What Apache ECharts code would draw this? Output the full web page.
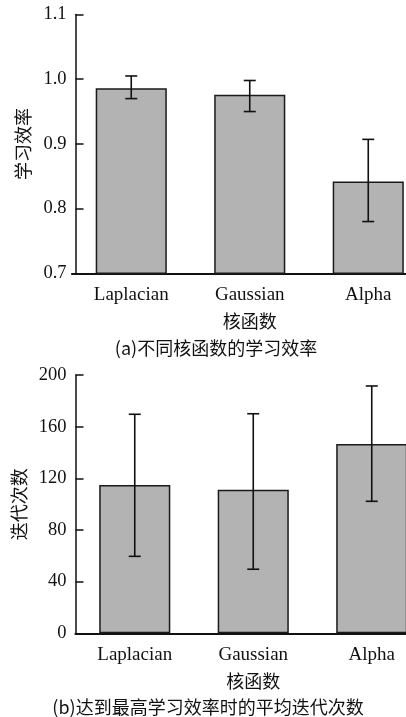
<!DOCTYPE html>
<html>
<head>
<meta charset="utf-8">
<script src="https://cdn.jsdelivr.net/npm/echarts@6/dist/echarts.min.js"></script>
<style>
html,body{margin:0;padding:0;background:#fff;overflow:hidden;width:406px;height:717px;}
#c{width:440px;height:717px;}
</style>
</head>
<body>
<div id="c"></div>
<script>
var categories = ['Laplacian', 'Gaussian', 'Alpha'];
var effMean = [0.986, 0.976, 0.842];
var effLow = [0.970, 0.950, 0.780];
var effHigh = [1.005, 0.998, 0.907];
var iterMean = [114.8, 111.2, 146.6];
var iterLow = [59.6, 49.6, 102.2];
var iterHigh = [169.6, 170.0, 191.5];
var effTicks = [0.7, 0.8, 0.9, 1.0, 1.1];
var iterTicks = [0, 40, 80, 120, 160, 200];
var xName = '核函数';
var effName = '学习效率';
var iterName = '迭代次数';
var captionA = '(a)不同核函数的学习效率';
var captionB = '(b)达到最高学习效率时的平均迭代次数';

var serif = '"Liberation Serif", "Times New Roman", serif';
var cjk = '"Noto Sans CJK SC", sans-serif';

function errData(low, high) {
  return categories.map(function (c, i) { return [i, low[i], high[i]]; });
}
function errRender(params, api) {
  var lo = api.coord([api.value(0), api.value(1)]);
  var hi = api.coord([api.value(0), api.value(2)]);
  var cap = 6;
  var st = { stroke: '#111', lineWidth: 1.6 };
  return {
    type: 'group',
    children: [
      { type: 'line', shape: { x1: hi[0], y1: hi[1], x2: lo[0], y2: lo[1] }, style: st },
      { type: 'line', shape: { x1: hi[0] - cap, y1: hi[1], x2: hi[0] + cap, y2: hi[1] }, style: st },
      { type: 'line', shape: { x1: lo[0] - cap, y1: lo[1], x2: lo[0] + cap, y2: lo[1] }, style: st }
    ]
  };
}

var chart = echarts.init(document.getElementById('c'), null, { renderer: 'canvas' });

function xAxisCfg(gi) {
  return {
    type: 'category', gridIndex: gi, data: categories,
    axisLine: { lineStyle: { color: '#111', width: 2.2 } },
    axisTick: { show: false },
    axisLabel: { color: '#111', fontFamily: serif, fontSize: 19, margin: 12 },
    name: xName, nameLocation: 'middle', nameGap: 39,
    nameTextStyle: { color: '#111', fontFamily: cjk, fontSize: 18 }
  };
}
function yAxisCfg(gi, ticks, name, dec, off) {
  return {
    type: 'value', gridIndex: gi,
    min: ticks[0], max: ticks[ticks.length - 1], interval: ticks[1] - ticks[0],
    offset: off,
    splitLine: { show: false },
    axisLine: { show: true, lineStyle: { color: '#111', width: 1.5 } },
    axisTick: { show: true, inside: true, length: 8, lineStyle: { color: '#111', width: 1.5 } },
    axisLabel: {
      color: '#111', fontFamily: serif, fontSize: 18.5, margin: 9,
      formatter: function (v) { return dec ? v.toFixed(dec) : String(Math.round(v)); }
    },
    name: name, nameLocation: 'middle', nameGap: 36 + off, nameRotate: 90,
    nameTextStyle: { color: '#111', fontFamily: cjk, fontSize: 18 }
  };
}

var barStyle = { color: '#b3b3b3', borderColor: '#1a1a1a', borderWidth: 1.5 };

chart.setOption({
  animation: false,
  backgroundColor: '#fff',
  grid: [
    { left: 72, top: 14.5, width: 355.5, height: 258.8 },
    { left: 75.5, top: 375, width: 355.5, height: 258.3 }
  ],
  xAxis: [xAxisCfg(0), xAxisCfg(1)],
  yAxis: [yAxisCfg(0, effTicks, effName, 1, -3.5), yAxisCfg(1, iterTicks, iterName, 0, 0)],
  series: [
    { type: 'bar', xAxisIndex: 0, yAxisIndex: 0, data: effMean, barWidth: '60%', itemStyle: barStyle, z: 1 },
    { type: 'custom', xAxisIndex: 0, yAxisIndex: 0, data: errData(effLow, effHigh), renderItem: errRender, z: 5 },
    { type: 'bar', xAxisIndex: 1, yAxisIndex: 1, data: iterMean, barWidth: '60%', itemStyle: barStyle, z: 1 },
    { type: 'custom', xAxisIndex: 1, yAxisIndex: 1, data: errData(iterLow, iterHigh), renderItem: errRender, z: 5 }
  ],
  graphic: [
    { type: 'text', x: 216, y: 348, style: { text: captionA, font: '18px ' + cjk, fill: '#111', textAlign: 'center', textVerticalAlign: 'middle' } },
    { type: 'text', x: 208, y: 707, style: { text: captionB, font: '18px ' + cjk, fill: '#111', textAlign: 'center', textVerticalAlign: 'middle' } }
  ]
});
</script>
</body>
</html>
